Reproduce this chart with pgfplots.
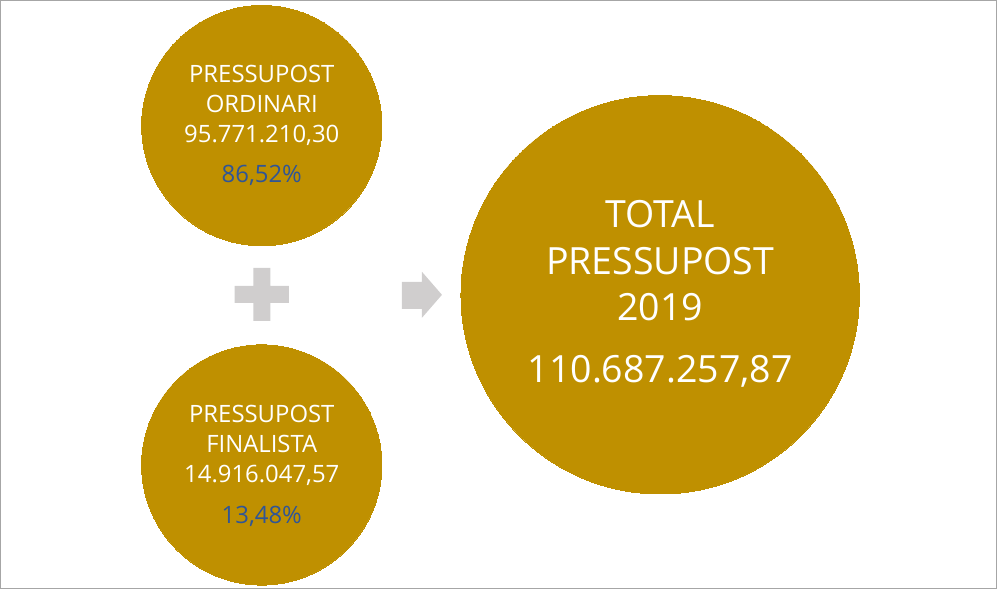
\documentclass[border=0pt]{standalone}
\usepackage{fontspec}
\setmainfont{Open Sans}
\usepackage{pgfplots}
\pgfplotsset{compat=1.18}
\definecolor{gold}{HTML}{BF9000}
\definecolor{shape}{HTML}{D0CECE}
\definecolor{pct}{HTML}{2F5597}
\definecolor{framec}{HTML}{A6A6A6}
\begin{document}
\begin{tikzpicture}
\begin{axis}[
  width=747.75pt, height=441.75pt, scale only axis,
  xmin=0, xmax=997, ymin=0, ymax=589, y dir=reverse,
  hide axis, clip=false,
]
% frame
\addplot[draw=framec, line width=0.75pt, mark=none] coordinates {(1,1) (996,1) (996,588) (1,588) (1,1)};
% circles
\addplot[color=gold, only marks, mark=*, mark size=90pt, mark options={fill=gold, draw=gold, line width=0pt}] coordinates {(262,126) (262,465)};
\addplot[color=gold, only marks, mark=*, mark size=149.25pt, mark options={fill=gold, draw=gold, line width=0pt}] coordinates {(660,295)};
% plus
\addplot[fill=shape, draw=none, mark=none] coordinates {(253.5,268) (270.5,268) (270.5,286) (289,286) (289,303) (270.5,303) (270.5,321) (253.5,321) (253.5,303) (235,303) (235,286) (253.5,286)} --cycle;
% arrow
\addplot[fill=shape, draw=none, mark=none] coordinates {(402,282) (422,282) (422,272) (442,295) (422,318) (422,309) (402,309)} --cycle;
% small circle texts
\addplot[draw=none, mark=none, nodes near coords, point meta=explicit symbolic,
  every node near coord/.append style={anchor=base, inner sep=0pt, text=white, font=\fontsize{17.9}{20}\selectfont}]
  coordinates {(262,83)[PRESSUPOST] (262,113)[ORDINARI] (262,143)[95.771.210,30] (262,423)[PRESSUPOST] (262,453)[FINALISTA] (262,483)[14.916.047,57]};
\addplot[draw=none, mark=none, nodes near coords, point meta=explicit symbolic,
  every node near coord/.append style={anchor=base, inner sep=0pt, text=pct, font=\fontsize{17.9}{20}\selectfont}]
  coordinates {(262,183)[86,52\%] (262,523)[13,48\%]};
% big circle text
\addplot[draw=none, mark=none, nodes near coords, point meta=explicit symbolic,
  every node near coord/.append style={anchor=base, inner sep=0pt, text=white, font=\fontsize{28.1}{32}\selectfont}]
  coordinates {(660,228)[TOTAL] (660,275)[PRESSUPOST] (660,321)[2019] (660,383)[110.687.257,87]};
\end{axis}
\end{tikzpicture}
\end{document}
